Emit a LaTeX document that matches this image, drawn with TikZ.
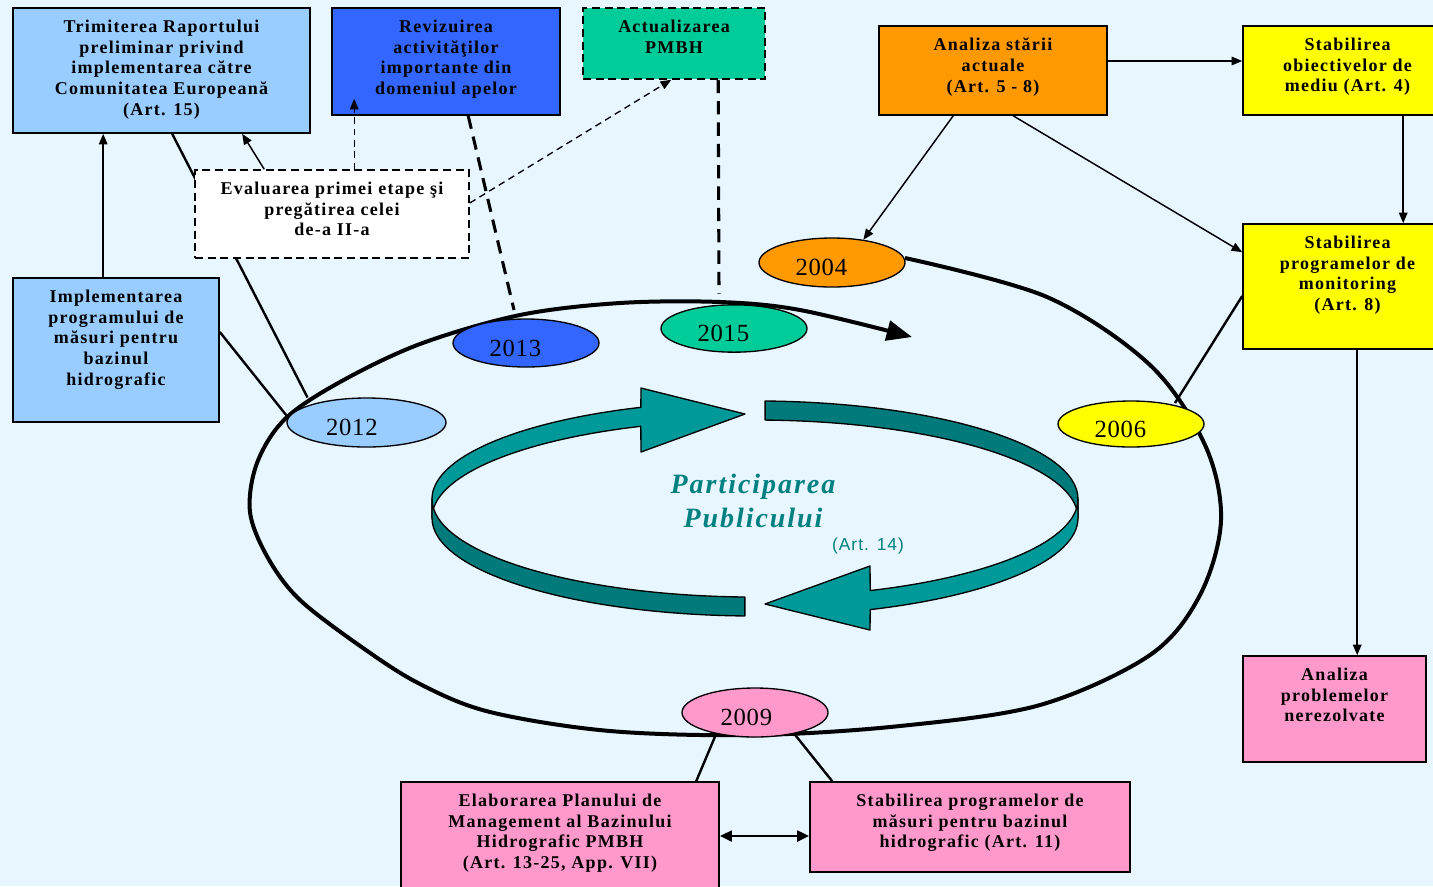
\documentclass[tikz,border=0pt]{standalone}
\usepackage{fontspec}
\setmainfont{Liberation Serif}
\newfontfamily\bxfont[LetterSpace=7]{Liberation Serif}
\newfontfamily\yrfont[LetterSpace=3]{Liberation Serif}
\newfontfamily\artfont[LetterSpace=6]{Liberation Sans}
\usetikzlibrary{shapes.geometric,arrows.meta,fit,calc}
\definecolor{cBg}{RGB}{232,246,255}
\definecolor{cLB}{RGB}{153,204,255}
\definecolor{cBl}{RGB}{51,102,255}
\definecolor{cGr}{RGB}{0,204,153}
\definecolor{cOr}{RGB}{255,153,0}
\definecolor{cYe}{RGB}{255,255,0}
\definecolor{cPk}{RGB}{255,153,204}
\definecolor{tlL}{RGB}{0,153,153}
\definecolor{tlD}{RGB}{0,122,122}
\definecolor{tlT}{RGB}{0,128,128}
\pgfdeclarelayer{bgl}
\pgfdeclarelayer{lines}
\pgfsetlayers{bgl,lines,main}
\begin{document}
\begin{tikzpicture}[x=0.75pt,y=-0.75pt,
  box/.style={draw=black, line width=1.2pt, rectangle, inner sep=0pt},
  dbox/.style={box, dash pattern=on 6pt off 3.5pt},
  txt/.style={anchor=north, align=center, inner sep=0pt,
    font=\bxfont\bfseries\fontsize{13.5}{15.5}\selectfont, execute at begin node=\strut},
  yr/.style={ellipse, draw=black, line width=1pt, inner sep=0pt,
    font=\yrfont\fontsize{18.5}{22}\selectfont, text height=19.5pt, text depth=0pt},
  arr/.style={-{Triangle[length=8pt,width=6.5pt]}, line width=1.1pt},
  darr/.style={-{Triangle[length=8pt,width=6.5pt]}, line width=1pt, dash pattern=on 5pt off 3.5pt},
  ln/.style={line width=1.8pt},
  dln/.style={line width=2.3pt, dash pattern=on 10pt off 6pt},
  rib/.style={draw=black, line width=1pt, line join=round},
  ptxt/.style={inner sep=0pt, text=tlT, font=\bxfont\bfseries\itshape\fontsize{21}{25}\selectfont}
]
\useasboundingbox (0,0) rectangle (1433,886);
\begin{pgfonlayer}{bgl}
\fill[cBg] (0,0) rectangle (1433,886);
\end{pgfonlayer}

% ---- boxes ----
\node[box, fill=cLB, fit={(13,8)(310,133)}] (T) {};
\node[txt] (Tt) at ([yshift=-9.5pt]T.north) {Trimiterea Raportului\\preliminar privind\\implementarea către\\Comunitatea Europeană\\(Art. 15)};
\node[box, fill=cBl, fit={(332,8)(560,115)}] (R) {};
\node[txt] (Rt) at ([yshift=-9.5pt]R.north) {Revizuirea\\activităţilor\\importante din\\domeniul apelor};
\node[dbox, fill=cGr, fit={(583,8)(765,79)}] (A) {};
\node[txt] (At) at ([yshift=-9.5pt]A.north) {Actualizarea\\PMBH};
\node[box, fill=cOr, fit={(879,26)(1107,115)}] (AS) {};
\node[txt] (ASt) at ([yshift=-9.5pt]AS.north) {Analiza stării\\actuale\\(Art. 5 - 8)};
\node[box, fill=cYe, fit={(1243,26)(1452,115)}] (SO) {};
\node[txt] (SOt) at ([yshift=-9.5pt]SO.north) {Stabilirea\\obiectivelor de\\mediu (Art. 4)};
\node[box, fill=cYe, fit={(1243,224)(1452,349)}] (SP) {};
\node[txt] (SPt) at ([yshift=-9.5pt]SP.north) {Stabilirea\\programelor de\\monitoring\\(Art. 8)};
\node[box, fill=cPk, fit={(1243,656)(1426,762)}] (AP) {};
\node[txt] (APt) at ([yshift=-9.5pt]AP.north) {Analiza\\problemelor\\nerezolvate};
\node[box, fill=cPk, fit={(401,782)(719,895)}] (E) {};
\node[txt] (Et) at ([yshift=-9.5pt]E.north) {Elaborarea Planului de\\Management al Bazinului\\Hidrografic PMBH\\(Art. 13-25, App. VII)};
\node[box, fill=cPk, fit={(810,782)(1130,872)}] (S) {};
\node[txt] (St) at ([yshift=-9.5pt]S.north) {Stabilirea programelor de\\măsuri pentru bazinul\\hidrografic (Art. 11)};
\node[box, fill=cLB, fit={(13,278)(219,422)}] (I) {};
\node[txt] (It) at ([yshift=-9.5pt]I.north) {Implementarea\\programului de\\măsuri pentru\\bazinul\\hidrografic};
\node[dbox, fill=white, fit={(195,170)(469,258)}] (Ev) {};
\node[txt] (Evt) at ([yshift=-9.5pt]Ev.north) {Evaluarea primei etape şi\\pregătirea celei\\de-a II-a};

% ---- year ellipses ----
\node[yr, fill=cOr, minimum width=109.5pt, minimum height=36.75pt] (Y04) at (832,262.5) {\hspace*{-16pt}2004};
\node[yr, fill=cGr, minimum width=109.5pt, minimum height=35.5pt] (Y15) at (734,328.5) {\hspace*{-16pt}2015};
\node[yr, fill=cBl, minimum width=109.5pt, minimum height=36pt] (Y13) at (526,343) {\hspace*{-16pt}2013};
\node[yr, fill=cLB, minimum width=119.25pt, minimum height=36.75pt] (Y12) at (366.5,422.5) {\hspace*{-22pt}2012};
\node[yr, fill=cYe, minimum width=109.5pt, minimum height=34.5pt] (Y06) at (1131,424) {\hspace*{-16pt}2006};
\node[yr, fill=cPk, minimum width=109.5pt, minimum height=36.75pt] (Y09) at (755,712.5) {\hspace*{-13pt}2009};

% ---- big cycle and connectors (behind) ----
\begin{pgfonlayer}{lines}
\draw[line width=3pt, -{Triangle[length=19pt,width=15pt]}] plot[smooth, tension=0.55] coordinates {
 (905,258) (1047,297) (1150,365) (1205,445) (1221,520) (1200,595) (1150,655) (1040,705)
 (900,726) (755,735) (610,731) (490,712) (420,684) (363,648) (300,600) (268,558) (250,512)
 (257,463) (285,419) (340,382) (420,344) (520,315) (620,303) (720,302) (800,310) (912,337)};
\draw[arr] ($(I.north west)+(91,0)$) -- ($(T.south west)+(91,0)$);
\draw[arr] ($(Ev.north west)+(70,0)$) -- ($(T.south west)+(230,0)$);
\draw[darr] ($(Ev.east)+(0,-11)$) -- ($(A.south west)+(89,0)$);
\draw[ln] ($(T.south west)+(160,0)$) -- ($(Y12.center)+(-59,-25)$);
\draw[ln] ($(I.east)+(0,-18)$) -- ($(Y12.center)+(-80,-7)$);
\draw[dln] ($(R.south west)+(137,0)$) -- ($(Y13.center)+(-12,-33)$);
\draw[dln] ($(A.south west)+(136,0)$) -- ($(Y15.center)+(-15,-35)$);
\draw[arr] ($(AS.south west)+(75,0)$) -- (Y04.36);
\draw[arr] ($(AS.east)+(0,-9.5)$) -- ($(SO.west)+(0,-9.5)$);
\draw[arr] ($(AS.south west)+(135,0)$) -- ($(SP.north west)+(0,29)$);
\draw[arr] ($(SO.south west)+(161,0)$) -- ($(SP.north west)+(161,0)$);
\draw[ln] ($(SP.west)+(0,9.5)$) -- ($(Y06.center)+(44,-21)$);
\draw[arr] ($(SP.south west)+(115,0)$) -- ($(AP.north west)+(115,0)$);
\draw[ln] ($(Y09.center)+(-37,17)$) -- ($(E.north west)+(296,0)$);
\draw[ln] ($(Y09.center)+(35,16)$) -- ($(S.north west)+(23,0)$);
\draw[line width=2pt, {Triangle[length=9pt,width=8pt]}-{Triangle[length=9pt,width=8pt]}]
  ($(E.east)+(0,-2.5)$) -- ($(S.west)+(0,9)$);
\end{pgfonlayer}
\draw[darr] ($(Ev.north west)+(160,0)$) -- ($(R.south west)+(23,-17)$);

% ---- public participation ribbon ----
\filldraw[rib, fill=tlL] (432,499) arc[start angle=180, end angle=249.3, x radius=323, y radius=98]
  -- (641,388) -- (745,414) -- (641,452) -- (640.8,426.3)
  arc[start angle=249.3, end angle=180, x radius=323, y radius=98] -- cycle;
\filldraw[rib, fill=tlD] (765.1,401) arc[start angle=271.8, end angle=360, x radius=323, y radius=98]
  -- (1078,518) arc[start angle=360, end angle=271.8, x radius=323, y radius=98] -- cycle;
\filldraw[rib, fill=tlL] (1078,499) arc[start angle=0, end angle=69.1, x radius=323, y radius=98]
  -- (870,566) -- (765,604) -- (870,630) -- (870.2,609.6)
  arc[start angle=69.1, end angle=0, x radius=323, y radius=98] -- cycle;
\filldraw[rib, fill=tlD] (744.9,597) arc[start angle=91.8, end angle=180, x radius=323, y radius=98]
  -- (432,518) arc[start angle=180, end angle=91.8, x radius=323, y radius=98] -- cycle;

\node[ptxt, anchor=base] (P1) at (753,493) {Participarea};
\node[ptxt, anchor=base] (P2) at (753,527) {Publicului};
\node[inner sep=0pt, anchor=base, text=tlT, font=\artfont\fontsize{13}{15}\selectfont] (P3) at (868,550) {(Art. 14)};
\end{tikzpicture}
\end{document}
